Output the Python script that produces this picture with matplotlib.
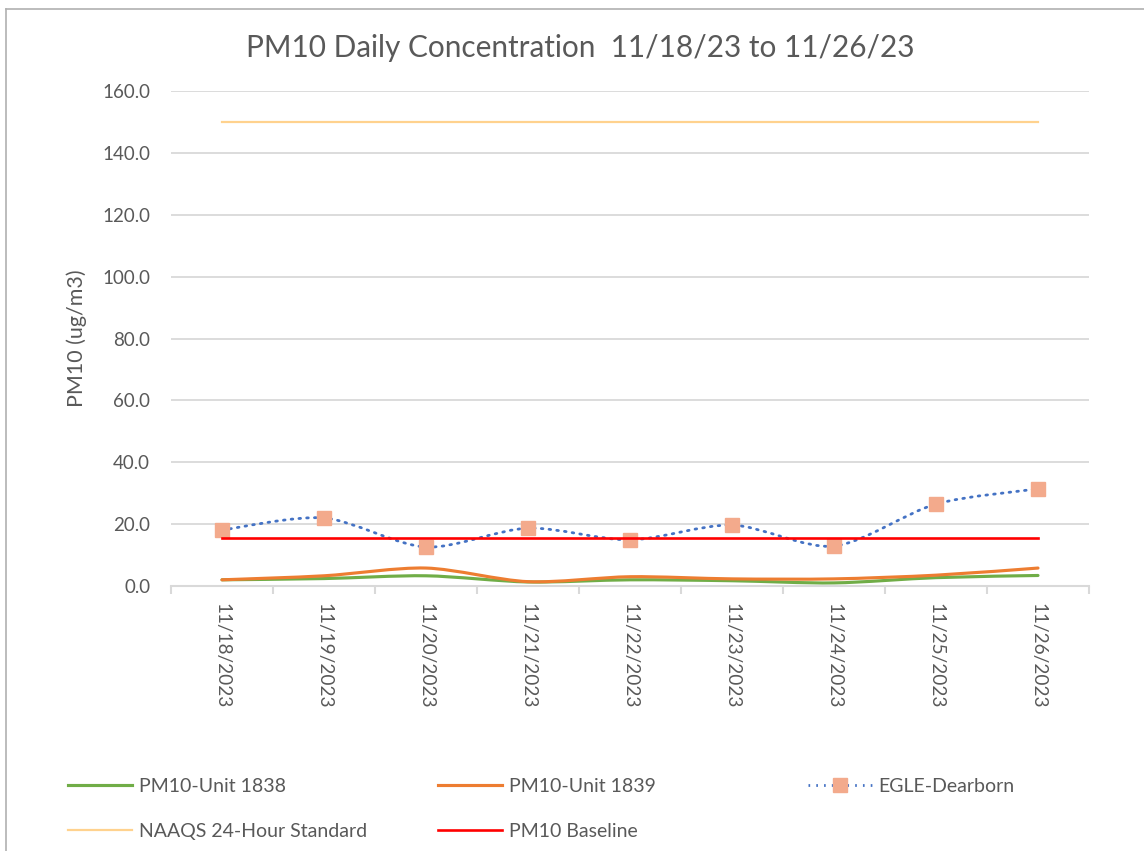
import matplotlib
matplotlib.use("Agg")
import matplotlib.pyplot as plt
from matplotlib.path import Path
from matplotlib.patches import PathPatch
from matplotlib.lines import Line2D
import numpy as np

plt.rcParams['font.family'] = ['Lato', 'DejaVu Sans']

# data
dates = ['11/18/2023', '11/19/2023', '11/20/2023', '11/21/2023', '11/22/2023',
         '11/23/2023', '11/24/2023', '11/25/2023', '11/26/2023']
unit_1838 = [2.0, 2.4, 3.3, 1.3, 2.0, 1.7, 1.0, 2.7, 3.4]
unit_1839 = [2.0, 3.3, 5.8, 1.4, 3.0, 2.3, 2.3, 3.5, 5.8]
egle = [18.1, 22.0, 12.6, 18.7, 14.9, 19.7, 12.9, 26.5, 31.4]
naaqs = [150.0] * 9
baseline = [15.5] * 9
yticks = np.arange(0, 161, 20)

text_col = '#595959'
grid_col = '#d9d9d9'


def smooth_path(xs, ys):
    # Catmull-Rom style smoothing like Excel's "smoothed line"
    pts = np.column_stack([xs, ys]).astype(float)
    n = len(pts)
    verts = [pts[0]]
    codes = [Path.MOVETO]
    for i in range(n - 1):
        p0 = pts[max(i - 1, 0)]
        p1 = pts[i]
        p2 = pts[i + 1]
        p3 = pts[min(i + 2, n - 1)]
        c1 = p1 + (p2 - p0) / 7.0
        c2 = p2 - (p3 - p1) / 7.0
        verts += [c1, c2, p2]
        codes += [Path.CURVE4] * 3
    return Path(verts, codes)


fig = plt.figure(figsize=(11.44, 8.51), dpi=100)
ax = fig.add_axes([171/1144, 1-586/851, (1089-171)/1144, (586-91)/851])

x = np.arange(len(dates))

ax.add_patch(PathPatch(smooth_path(x, unit_1838), fill=False, ec='#70ad47', lw=2.25,
                       capstyle='round', joinstyle='round', zorder=3))
ax.add_patch(PathPatch(smooth_path(x, unit_1839), fill=False, ec='#ed7d31', lw=2.25,
                       capstyle='round', joinstyle='round', zorder=4))
ax.add_patch(PathPatch(smooth_path(x, egle), fill=False, ec='#4472c4', lw=2,
                       linestyle=(0, (0.6, 2.2)), capstyle='round', zorder=5))
ax.plot(x, egle, linestyle='none', marker='s', ms=9.5, mfc='#f3aa8c', mec='#f3aa8c', zorder=6)
ax.plot(x, naaqs, color='#ffd28e', lw=1.6, zorder=7)
ax.plot(x, baseline, color='#ff0000', lw=1.9, zorder=8)

ax.set_xlim(-0.5, len(dates) - 0.5)
ax.set_ylim(0, 160)
ax.set_yticks(yticks)
ax.set_yticklabels(['%.1f' % v for v in yticks])
ax.set_xticks(x)
ax.set_xticklabels(dates, rotation=-90, va='top', ha='center')
ax.set_xticks(np.arange(-0.5, len(dates)), minor=True)

ax.tick_params(axis='y', length=0, pad=15, labelsize=13.5, labelcolor=text_col)
ax.tick_params(axis='x', which='major', length=0, pad=12, labelsize=13.7, labelcolor=text_col)
ax.tick_params(axis='x', which='minor', length=6, width=1.5, color=grid_col)

for s in ['top', 'right', 'left']:
    ax.spines[s].set_visible(False)
ax.spines['bottom'].set_color(grid_col)
ax.spines['bottom'].set_linewidth(1.5)
ax.yaxis.grid(True, color=grid_col, lw=1.3)
ax.set_axisbelow(True)

ax.set_ylabel('PM10 (ug/m3)', fontsize=15.5, color=text_col, labelpad=11)
fig.text(580/1144, 1-48/851, 'PM10 Daily Concentration  11/18/23 to 11/26/23',
         fontsize=21.4, color=text_col, ha='center', va='center')

# chart border (left and top edges visible)
fig.add_artist(Line2D([6/1144, 6/1144], [0, 1-9/851], color='#b0b0b0', lw=1.2))
fig.add_artist(Line2D([6/1144, 1], [1-9/851, 1-9/851], color='#b0b0b0', lw=1.2))

# legend, laid out in three columns like the original
h1838 = Line2D([], [], color='#70ad47', lw=2.25)
h1839 = Line2D([], [], color='#ed7d31', lw=2.25)
hegle = Line2D([], [], color='#4472c4', lw=2, linestyle=(0, (0.6, 2.2)),
               marker='s', ms=9.5, mfc='#f3aa8c', mec='#f3aa8c')
hnaaqs = Line2D([], [], color='#ffd28e', lw=1.6)
hbase = Line2D([], [], color='#ff0000', lw=1.9)

leg_kw = dict(frameon=False, fontsize=14, labelcolor=text_col, handlelength=3.3,
              handletextpad=0.33, labelspacing=1.45, loc='upper left', borderaxespad=0,
              borderpad=0)
fig.legend([h1838, hnaaqs], ['PM10-Unit 1838', 'NAAQS 24-Hour Standard'],
           bbox_to_anchor=(68/1144, 1-778/851), **leg_kw)
fig.legend([h1839, hbase], ['PM10-Unit 1839', 'PM10 Baseline'],
           bbox_to_anchor=(438/1144, 1-778/851), **leg_kw)
fig.legend([hegle], ['EGLE-Dearborn'],
           bbox_to_anchor=(808/1144, 1-778/851), **leg_kw)

fig.savefig('out.png', dpi=100)
